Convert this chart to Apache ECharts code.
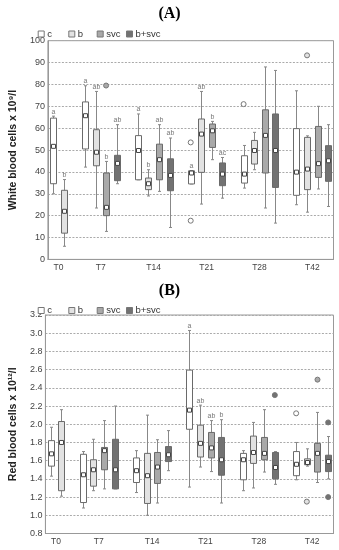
<!DOCTYPE html>
<html>
<head>
<meta charset="utf-8">
<script src="https://cdn.jsdelivr.net/npm/echarts@6/dist/echarts.min.js"></script>
<style>html,body{margin:0;padding:0;background:#fff;}#chart{width:339px;height:550px;}</style>
</head>
<body>
<div id="chart"></div>
<script>
// ---- categories / labels ----
const times = ['T0', 'T7', 'T14', 'T21', 'T28', 'T42'];
const groups = ['c', 'b', 'svc', 'b+svc'];
const groupColors = ['#ffffff', '#e2e2e2', '#a9a9a9', '#727272'];

// ---- (A) White blood cells: [min, Q1, median, Q3, max] per time (null = not measured) ----
const wbcC    = [[30, 34.6, 51.7, 64.6, 65.5], [42.2, 50.5, 65.7, 72, 79.4], [36.4, 36.4, 49.8, 56.6, 66.5], [34.5, 34.5, 39.5, 40.5, 40.5], [32.6, 34.9, 39, 47.4, 52.1], [25, 29.3, 39.9, 59.8, 77.1]];
const wbcB    = [[6, 12, 22, 31.6, 36.5], [23.5, 42.8, 49, 59.3, 76.8], [29, 31.9, 34.6, 37.2, 41], [25.3, 39.8, 57.3, 64.2, 76.8], [41, 43.6, 49.8, 54.4, 58.1], [21.6, 31.9, 41.3, 55.8, 56.5]];
const wbcSvc  = [null, [12.8, 20, 23.8, 39.5, 44.8], [31.1, 36.4, 45.6, 52.7, 61.6], [45.6, 51.2, 58.8, 61.9, 63.1], [23.5, 39.5, 56.7, 68.4, 88], [32.2, 37.5, 43.8, 60.8, 70]];
const wbcBsvc = [null, [34.6, 36, 43.9, 47.6, 61.6], [14.6, 31.4, 38.4, 46, 55.5], [28, 33.7, 39, 44.1, 46.6], [16.6, 32.9, 49.8, 66.5, 86.4], [24.2, 35.7, 45.1, 52, 61.6]];
const wbcSigC    = ['a', 'a', 'a', 'a', '', ''];
const wbcSigB    = ['b', 'ab', 'b', 'ab', '', ''];
const wbcSigSvc  = ['', 'b', 'ab', 'b', '', ''];
const wbcSigBsvc = ['', 'ab', 'ab', 'ac', '', ''];
// outliers: [time index, value]
const wbcOutC    = [[3, 53.5], [3, 17.7], [4, 71]];
const wbcOutB    = [[5, 93.3]];
const wbcOutSvc  = [[1, 79.5]];
const wbcOutBsvc = [];

// ---- (B) Red blood cells ----
const rbcC    = [[1.43, 1.54, 1.675, 1.82, 1.967], [1.08, 1.14, 1.445, 1.67, 1.70], [1.25, 1.36, 1.49, 1.63, 1.71], [1.31, 1.945, 2.155, 2.595, 3.03], [1.27, 1.39, 1.61, 1.68, 1.71], [1.39, 1.435, 1.56, 1.70, 1.80]];
const rbcB    = [[1.21, 1.27, 1.80, 2.03, 2.16], [1.27, 1.32, 1.50, 1.61, 1.835], [1.0, 1.13, 1.435, 1.68, 2.10], [1.53, 1.64, 1.79, 1.99, 2.21], [1.30, 1.57, 1.69, 1.87, 2.02], [1.54, 1.555, 1.58, 1.62, 1.73]];
const rbcSvc  = [null, [1.29, 1.50, 1.71, 1.745, 2.04], [1.135, 1.35, 1.53, 1.69, 1.83], [1.48, 1.63, 1.74, 1.91, 2.04], [1.475, 1.61, 1.68, 1.855, 2.16], [1.36, 1.475, 1.68, 1.79, 2.13]];
const rbcBsvc = [null, [1.29, 1.29, 1.50, 1.835, 2.2], [1.49, 1.59, 1.665, 1.755, 1.93], [1.135, 1.44, 1.61, 1.855, 2.05], [1.34, 1.40, 1.525, 1.69, 1.70], [1.40, 1.48, 1.59, 1.66, 1.865]];
const rbcSigC    = ['', '', '', 'a', '', ''];
const rbcSigB    = ['', '', '', 'ab', '', ''];
const rbcSigSvc  = ['', '', '', 'ab', '', ''];
const rbcSigBsvc = ['', '', '', 'b', '', ''];
const rbcOutC    = [[5, 2.12]];
const rbcOutB    = [[5, 1.15]];
const rbcOutSvc  = [[5, 2.49]];
const rbcOutBsvc = [[4, 2.32], [5, 2.02], [5, 1.20]];

// position of a box on the x scale: T0 has two boxes, others four, one empty slot between groups
function slot(t, g) { return t === 0 ? 1 + g : 4 + (t - 1) * 5 + g; }
const labelPos = times.map((_, t) => t === 0 ? 1.5 : 5.5 + (t - 1) * 5);

const FONT = 'Liberation Sans, Arial, sans-serif';

function boxSeries(panel, g, boxes, sigs) {
  const data = [], letters = [];
  boxes.forEach((b, t) => {
    if (!b) return;
    data.push([slot(t, g)].concat(b));
    letters.push(sigs[t]);
  });
  return {
    type: 'custom', name: groups[g], xAxisIndex: panel, yAxisIndex: panel,
    itemStyle: { color: groupColors[g], borderColor: '#666', borderWidth: 1 },
    encode: { x: 0, y: [1, 2, 3, 4, 5] },
    data: data,
    renderItem: function (params, api) {
      const x = api.value(0);
      const lo = api.coord([x, api.value(1)]);
      const q1 = api.coord([x, api.value(2)]);
      const md = api.coord([x, api.value(3)]);
      const q3 = api.coord([x, api.value(4)]);
      const hi = api.coord([x, api.value(5)]);
      const cx = Math.round(lo[0]) + 0.5;
      const w = 6;
      const ch = [
        { type: 'line', shape: { x1: cx, y1: hi[1], x2: cx, y2: lo[1] }, style: { stroke: '#888', lineWidth: 1 } },
        { type: 'line', shape: { x1: cx - 1.5, y1: hi[1], x2: cx + 1.5, y2: hi[1] }, style: { stroke: '#888', lineWidth: 1 } },
        { type: 'line', shape: { x1: cx - 1.5, y1: lo[1], x2: cx + 1.5, y2: lo[1] }, style: { stroke: '#888', lineWidth: 1 } },
        { type: 'rect', shape: { x: cx - w / 2, y: q3[1], width: w, height: Math.max(q1[1] - q3[1], 1) }, style: { fill: groupColors[g], stroke: '#6a6a6a', lineWidth: 1 } },
        { type: 'rect', shape: { x: cx - 2, y: md[1] - 2, width: 4, height: 4 }, style: { fill: '#fff', stroke: '#444', lineWidth: 1 } }
      ];
      const s = letters[params.dataIndex];
      if (s) {
        ch.push({ type: 'text', style: { text: s, x: cx, y: hi[1] - 1, align: 'center', verticalAlign: 'bottom', fontSize: 7, fontFamily: FONT, fill: '#777' } });
      }
      return { type: 'group', children: ch };
    }
  };
}

function outlierSeries(panel, g, pts) {
  return {
    type: 'scatter', name: groups[g], xAxisIndex: panel, yAxisIndex: panel,
    symbol: 'circle', symbolSize: 5,
    itemStyle: { color: groupColors[g], borderColor: '#777', borderWidth: 1, opacity: 1 },
    emphasis: { disabled: true },
    data: pts.map(p => [slot(p[0], g), p[1]])
  };
}

function xAxis(gridIndex) {
  return {
    type: 'value', gridIndex: gridIndex, min: 0.5, max: 27.5,
    axisLine: { show: true, lineStyle: { color: '#999' } },
    axisTick: { show: false },
    splitLine: { show: false },
    axisLabel: {
      customValues: labelPos, margin: 4, fontSize: 8.5, color: '#444', fontFamily: FONT,
      formatter: function (v) { const i = labelPos.findIndex(p => Math.abs(p - v) < 1e-6); return i >= 0 ? times[i] : ''; }
    }
  };
}

function yAxis(gridIndex, min, max, interval, name, fmt) {
  return {
    type: 'value', gridIndex: gridIndex, min: min, max: max, interval: interval,
    name: name, nameLocation: 'middle', nameGap: 22,
    nameTextStyle: { fontSize: 10.5, fontWeight: 'bold', color: '#222', fontFamily: FONT },
    axisLine: { show: true, lineStyle: { color: '#999' } },
    axisTick: { show: false },
    splitLine: { show: true, lineStyle: { color: '#aaa', type: [2, 1.5], width: 1 } },
    axisLabel: { fontSize: 9, color: '#444', fontFamily: FONT, margin: 3, formatter: fmt }
  };
}

// one legend component per item so that the items sit at the reference's even spacing
const legendLeft = [37.7, 68.3, 96.7, 126];
function legends(top) {
  return groups.map((g, i) => ({
    left: legendLeft[i], top: top, orient: 'horizontal', icon: 'rect',
    itemWidth: 6, itemHeight: 6, padding: 0, selectedMode: false,
    textStyle: { fontSize: 9.5, color: '#333', fontFamily: FONT, padding: [0, 0, 0, -2] },
    data: [{ name: g, itemStyle: { color: groupColors[i], borderColor: '#777', borderWidth: 1 } }]
  }));
}

const titleStyle = { fontFamily: 'Liberation Serif, Times New Roman, serif', fontWeight: 'bold', fontSize: 16, color: '#000' };

const option = {
  animation: false,
  backgroundColor: '#fff',
  title: [
    { text: '(A)', left: 'center', top: 6, padding: 0, textStyle: titleStyle },
    { text: '(B)', left: 'center', top: 283, padding: 0, textStyle: titleStyle }
  ],
  legend: legends(29).concat(legends(305.5)),
  grid: [
    { left: 33.5, right: 5.5, top: 40.7, height: 218.7, show: true, borderColor: '#999', borderWidth: 1, backgroundColor: 'transparent' },
    { left: 33.5, right: 5.5, top: 315, height: 218.5, show: true, borderColor: '#999', borderWidth: 1, backgroundColor: 'transparent' }
  ],
  xAxis: [xAxis(0), xAxis(1)],
  yAxis: [
    yAxis(0, 0, 100, 10, 'White blood cells x 10\u2079/l', v => String(v)),
    yAxis(1, 0.8, 3.2, 0.2, 'Red blood cells x 10\u00B9\u00B2/l', v => v.toFixed(1))
  ],
  series: [
    boxSeries(0, 0, wbcC, wbcSigC), boxSeries(0, 1, wbcB, wbcSigB), boxSeries(0, 2, wbcSvc, wbcSigSvc), boxSeries(0, 3, wbcBsvc, wbcSigBsvc),
    outlierSeries(0, 0, wbcOutC), outlierSeries(0, 1, wbcOutB), outlierSeries(0, 2, wbcOutSvc), outlierSeries(0, 3, wbcOutBsvc),
    boxSeries(1, 0, rbcC, rbcSigC), boxSeries(1, 1, rbcB, rbcSigB), boxSeries(1, 2, rbcSvc, rbcSigSvc), boxSeries(1, 3, rbcBsvc, rbcSigBsvc),
    outlierSeries(1, 0, rbcOutC), outlierSeries(1, 1, rbcOutB), outlierSeries(1, 2, rbcOutSvc), outlierSeries(1, 3, rbcOutBsvc)
  ]
};

const chart = echarts.init(document.getElementById('chart'), null, { renderer: 'canvas' });
chart.setOption(option);
</script>
</body>
</html>
